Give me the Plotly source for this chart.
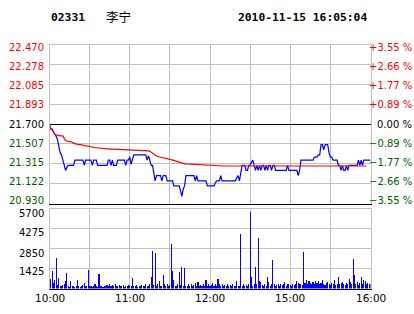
import plotly.graph_objects as go

# ---------------- data ----------------
minutes = list(range(241))

price = [
    21.70, 21.65, 21.65, 21.62, 21.60, 21.58, 21.55, 21.48, 21.42, 21.40,
    21.35, 21.30, 21.25, 21.28, 21.30, 21.30, 21.30, 21.30, 21.30, 21.35,
    21.35, 21.35, 21.35, 21.35, 21.35, 21.35, 21.30, 21.35, 21.35, 21.35,
    21.35, 21.35, 21.30, 21.35, 21.35, 21.35, 21.30, 21.30, 21.30, 21.30,
    21.30, 21.30, 21.30, 21.30, 21.35, 21.35, 21.30, 21.35, 21.30, 21.30,
    21.30, 21.35, 21.35, 21.35, 21.35, 21.35, 21.35, 21.30, 21.35, 21.35,
    21.38, 21.31, 21.37, 21.40, 21.40, 21.40, 21.40, 21.40, 21.40, 21.40,
    21.40, 21.40, 21.40, 21.35, 21.39, 21.35, 21.30, 21.30, 21.22, 21.15,
    21.20, 21.20, 21.20, 21.20, 21.15, 21.20, 21.20, 21.20, 21.15, 21.15,
    21.15, 21.15, 21.15, 21.10, 21.10, 21.10, 21.10, 21.10, 21.05, 21.00,
    21.07, 21.10, 21.20, 21.20, 21.20, 21.20, 21.20, 21.20, 21.20, 21.15,
    21.20, 21.15, 21.15, 21.15, 21.15, 21.15, 21.15, 21.15, 21.10, 21.10,
    21.10, 21.10, 21.10, 21.10, 21.13, 21.15, 21.15, 21.15, 21.20, 21.15,
    21.15, 21.15, 21.15, 21.15, 21.15, 21.15, 21.15, 21.15, 21.15, 21.15,
    21.18, 21.20, 21.15, 21.22, 21.30, 21.30, 21.30, 21.25, 21.25, 21.30,
    21.30, 21.33, 21.35, 21.30, 21.25, 21.30, 21.25, 21.30, 21.25, 21.30,
    21.30, 21.25, 21.30, 21.25, 21.30, 21.30, 21.25, 21.30, 21.30, 21.25,
    21.25, 21.25, 21.25, 21.25, 21.25, 21.25, 21.25, 21.25, 21.30, 21.25,
    21.25, 21.25, 21.25, 21.25, 21.25, 21.25, 21.20, 21.25, 21.35, 21.35,
    21.35, 21.35, 21.35, 21.35, 21.35, 21.35, 21.35, 21.35, 21.38, 21.38,
    21.38, 21.40, 21.40, 21.50, 21.50, 21.45, 21.50, 21.50, 21.50, 21.42,
    21.38, 21.38, 21.35, 21.35, 21.35, 21.35, 21.30, 21.30, 21.25, 21.30,
    21.25, 21.25, 21.30, 21.25, 21.30, 21.30, 21.30, 21.30, 21.30, 21.30,
    21.30, 21.35, 21.30, 21.35, 21.30, 21.35, 21.35, 21.35, 21.35, 21.35,
    21.35,
]

avg_price = [
    21.680, 21.660, 21.640, 21.620, 21.600, 21.595, 21.590, 21.590, 21.585, 21.585,
    21.585, 21.560, 21.540, 21.535, 21.530, 21.530, 21.530, 21.520, 21.515, 21.510,
    21.505, 21.500, 21.500, 21.500, 21.500, 21.495, 21.490, 21.490, 21.487, 21.485,
    21.482, 21.478, 21.475, 21.472, 21.470, 21.470, 21.468, 21.466, 21.465, 21.465,
    21.464, 21.463, 21.462, 21.460, 21.460, 21.459, 21.458, 21.457, 21.456, 21.455,
    21.454, 21.453, 21.452, 21.451, 21.450, 21.450, 21.449, 21.448, 21.447, 21.446,
    21.446, 21.445, 21.445, 21.445, 21.445, 21.445, 21.445, 21.445, 21.445, 21.445,
    21.445, 21.445, 21.445, 21.445, 21.440, 21.435, 21.425, 21.415, 21.405, 21.395,
    21.390, 21.385, 21.382, 21.380, 21.378, 21.376, 21.375, 21.372, 21.368, 21.365,
    21.362, 21.358, 21.352, 21.347, 21.343, 21.338, 21.332, 21.327, 21.322, 21.318,
    21.316, 21.314, 21.313, 21.312, 21.311, 21.311, 21.310, 21.310, 21.310, 21.310,
    21.309, 21.308, 21.307, 21.306, 21.305, 21.304, 21.303, 21.302, 21.301, 21.300,
    21.298, 21.297, 21.297, 21.296, 21.296, 21.295, 21.295, 21.294, 21.294, 21.294,
    21.293, 21.293, 21.293, 21.293, 21.293, 21.287, 21.287, 21.287, 21.287, 21.287,
    21.287, 21.287, 21.287, 21.287, 21.287, 21.287, 21.287, 21.287, 21.287, 21.287,
    21.287, 21.287, 21.287, 21.287, 21.287, 21.287, 21.287, 21.287, 21.287, 21.287,
    21.287, 21.287, 21.287, 21.287, 21.287, 21.287, 21.287, 21.287, 21.287, 21.287,
    21.287, 21.287, 21.287, 21.287, 21.287, 21.287, 21.287, 21.287, 21.287, 21.287,
    21.287, 21.287, 21.287, 21.287, 21.287, 21.287, 21.287, 21.287, 21.287, 21.287,
    21.287, 21.287, 21.287, 21.287, 21.287, 21.293, 21.293, 21.293, 21.293, 21.293,
    21.293, 21.293, 21.293, 21.293, 21.293, 21.293, 21.293, 21.293, 21.293, 21.293,
    21.293, 21.293, 21.293, 21.293, 21.293, 21.293, 21.293, 21.293, 21.293, 21.293,
    21.293, 21.293, 21.293, 21.293, 21.293, 21.293, 21.293, 21.293, 21.293, 21.293,
    21.293, 21.293, 21.293, 21.293, 21.293, 21.293, 21.293, 21.293, None, None,
    None,
]

volume = [
    1600, 670, 1270, 360, 600, 2160, 240, 770, 150, 200,
    250, 310, 530, 1130, 180, 120, 530, 150, 200, 120,
    200, 600, 150, 120, 200, 250, 400, 150, 200, 1320,
    200, 150, 120, 180, 290, 150, 120, 1030, 200, 150,
    120, 200, 150, 250, 150, 300, 200, 250, 150, 300,
    200, 150, 250, 200, 150, 250, 120, 200, 150, 250,
    200, 150, 740, 200, 150, 250, 120, 200, 150, 250,
    200, 150, 300, 200, 150, 300, 810, 2680, 250, 2560,
    200, 300, 530, 200, 150, 960, 300, 200, 310, 150,
    250, 3190, 1250, 600, 200, 150, 300, 1180, 250, 1530,
    200, 1440, 200, 150, 300, 200, 350, 150, 250, 400,
    200, 480, 150, 250, 200, 300, 150, 600, 200, 300,
    150, 250, 400, 200, 300, 150, 670, 300, 200, 300,
    150, 250, 200, 300, 150, 250, 200, 300, 150, 200,
    530, 200, 150, 3900, 200, 300, 150, 250, 200, 300,
    5480, 790, 200, 300, 1510, 300, 3640, 550, 480, 250,
    200, 300, 150, 790, 480, 200, 300, 2040, 300, 200,
    250, 300, 200, 350, 250, 300, 455, 200, 350, 300,
    250, 200, 300, 250, 350, 550, 400, 300, 350, 250,
    2590, 400, 600, 300, 550, 400, 350, 500, 300, 550,
    400, 550, 300, 400, 600, 300, 250, 400, 500, 300,
    250, 400, 350, 600, 250, 300, 790, 300, 400, 500,
    300, 250, 400, 300, 650, 450, 300, 2110, 940, 300,
    480, 250, 400, 840, 300, 600, 530, 300, 400, 290,
    290,
]

price_ticks = [22.470, 22.2775, 22.085, 21.8925, 21.700, 21.5075, 21.315, 21.1225, 20.930]
price_labels = ["22.470", "22.278", "22.085", "21.893", "21.700",
                "21.507", "21.315", "21.122", "20.930"]
pct_labels = ["+3.55 %", "+2.66 %", "+1.77 %", "+0.89 %", "0.00 %",
              "\u22120.89 %", "\u22121.77 %", "\u22122.66 %", "\u22123.55 %"]
label_colors = ["#ff0000"] * 4 + ["#000000"] + ["#006000"] * 4
vol_ticks = [1425, 2850, 4275, 5700]
vol_labels = ["1425", "2850", "4275", "5700"]
time_ticks = [0, 60, 120, 180, 240]
time_labels = ["10:00", "11:00", "12:00", "15:00", "16:00"]
prev_close = 21.70

# ---------------- layout geometry (pixels) ----------------
W, H = 414, 314
XL, XR = 49.5, 370.5
P_TOP, P_BOT = 44.5, 203.5
V_TOP, V_BOT = 209, 288.5
price_label_px = [47.5 + 19.16 * k for k in range(9)]
vol_label_px = [271.5, 253, 233, 213]

def py(v):
    return 1 - v / H

fig = go.Figure()
fig.add_trace(go.Bar(x=minutes, y=volume, xaxis="x2", yaxis="y3",
                     marker=dict(color="#0000ff", line=dict(width=0)),
                     width=0.8, hoverinfo="skip"))
fig.add_trace(go.Scatter(x=minutes, y=price, mode="lines",
                         line=dict(color="#0000ff", width=1.2), hoverinfo="skip"))
fig.add_trace(go.Scatter(x=minutes, y=avg_price, mode="lines",
                         line=dict(color="#ff0000", width=1.2), hoverinfo="skip"))

grid = "#c0c0c0"
xdom = [XL / W, XR / W]
base_x = dict(range=[0, 240], tick0=0, dtick=30, showticklabels=False,
              zeroline=False, ticks="", domain=xdom)
grid_price = [v for v in price_ticks if v not in (prev_close, 20.930, 22.470)]
fig.update_layout(
    width=W, height=H, margin=dict(l=0, r=0, t=0, b=0),
    paper_bgcolor="white", plot_bgcolor="white", showlegend=False,
    bargap=0,
    # price panel
    xaxis=dict(anchor="y", showgrid=True, gridcolor=grid, gridwidth=1,
               showline=True, linecolor="black", linewidth=1, mirror=False, **base_x),
    xaxis3=dict(overlaying="x", anchor="y", side="top", showgrid=False,
                showline=True, linecolor=grid, linewidth=1, **base_x),
    yaxis=dict(range=[20.930, 22.470], tickvals=grid_price, showgrid=True,
               gridcolor=grid, showticklabels=False, zeroline=False, ticks="",
               showline=True, linecolor=grid, linewidth=1, mirror=True,
               domain=[py(P_BOT), py(P_TOP)], anchor="x"),
    yaxis2=dict(range=[20.930, 22.470], tickvals=[prev_close], showgrid=True,
                gridcolor="black", gridwidth=1, showticklabels=False, zeroline=False,
                ticks="", showline=False, overlaying="y", anchor="x"),
    # volume panel
    xaxis2=dict(anchor="y3", showgrid=True, gridcolor=grid, gridwidth=1,
                showline=True, linecolor="black", linewidth=1, mirror=False, **base_x),
    xaxis4=dict(overlaying="x2", anchor="y3", side="top", showgrid=False,
                showline=True, linecolor=grid, linewidth=1, **base_x),
    yaxis3=dict(range=[0, 5700], tickvals=vol_ticks[:-1], showgrid=True,
                gridcolor=grid, showticklabels=False, zeroline=False, ticks="",
                showline=True, linecolor=grid, linewidth=1, mirror=True,
                domain=[py(V_BOT), py(V_TOP)], anchor="x2"),
)
# dummy invisible traces so that overlay axes are drawn
fig.add_trace(go.Scatter(x=[None], y=[None], xaxis="x3", yaxis="y2",
                         showlegend=False, hoverinfo="skip"))
fig.add_trace(go.Scatter(x=[None], y=[None], xaxis="x4", yaxis="y3",
                         showlegend=False, hoverinfo="skip"))

ann = []
lab_font = "DejaVu Sans"
FS = 10
for ypx, t, c in zip(price_label_px, price_labels, label_colors):
    ann.append(dict(x=46 / W, y=py(ypx), xref="paper", yref="paper", text=t,
                    showarrow=False, xanchor="right", yanchor="middle",
                    font=dict(family=lab_font, size=FS, color=c)))
for ypx, t, c in zip(price_label_px, pct_labels, label_colors):
    ann.append(dict(x=414 / W, y=py(ypx), xref="paper", yref="paper", text=t,
                    showarrow=False, xanchor="right", yanchor="middle",
                    font=dict(family=lab_font, size=FS, color=c)))
for ypx, t in zip(vol_label_px, vol_labels):
    ann.append(dict(x=46 / W, y=py(ypx), xref="paper", yref="paper", text=t,
                    showarrow=False, xanchor="right", yanchor="middle",
                    font=dict(family=lab_font, size=FS, color="#000000")))
for v, t in zip(time_ticks, time_labels):
    ann.append(dict(x=v, y=py(297.5), xref="x2", yref="paper", text=t, showarrow=False,
                    xanchor="center", yanchor="middle",
                    font=dict(family=lab_font, size=FS + 0.5, color="#000000")))

title_font = dict(family="DejaVu Sans Mono", size=11.3, color="#000000")
ann.append(dict(x=49 / W, y=py(17.5), xref="paper", yref="paper", text="<b>02331</b>",
                showarrow=False, xanchor="left", yanchor="middle", font=title_font))
ann.append(dict(x=104 / W, y=py(17), xref="paper", yref="paper", text="李宁",
                showarrow=False, xanchor="left", yanchor="middle",
                font=dict(family="Noto Sans CJK SC", size=12.5, color="#000000")))
ann.append(dict(x=236 / W, y=py(17.5), xref="paper", yref="paper",
                text="<b>2010-11-15 16:05:04</b>",
                showarrow=False, xanchor="left", yanchor="middle", font=title_font))
fig.update_layout(annotations=ann)

fig.write_html("out.html", config=dict(displayModeBar=False, staticPlot=True))
